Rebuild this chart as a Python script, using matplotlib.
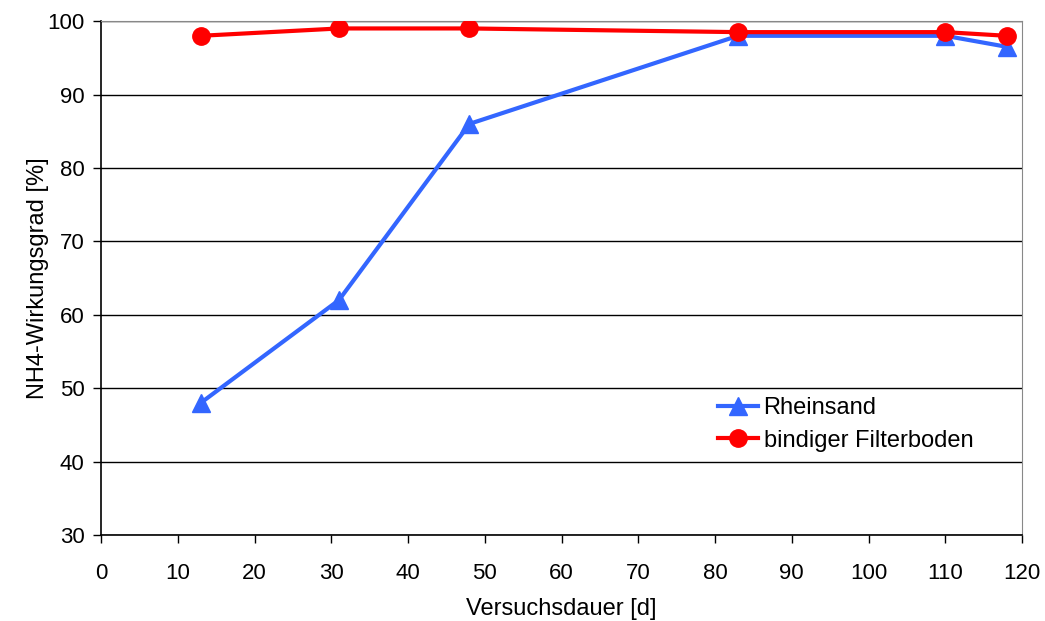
import matplotlib
matplotlib.use("Agg")
import matplotlib.pyplot as plt

plt.rcParams['font.family'] = ['Liberation Sans', 'DejaVu Sans']

# Versuchsdauer in Tagen
tage = [13, 31, 48, 83, 110, 118]
# NH4-Wirkungsgrad in %
rheinsand = [48, 62, 86, 98, 98, 96.5]
filterboden = [98, 99, 99, 98.5, 98.5, 98]

fig = plt.figure(figsize=(10.45, 6.21), dpi=100)
ax = fig.add_axes([0.0967, 0.1385, 0.8813, 0.8275])

ax.plot(tage, rheinsand, color='#3366ff', linewidth=3, marker='^',
        markersize=13, label='Rheinsand', zorder=3)
ax.plot(tage, filterboden, color='#ff0000', linewidth=3, marker='o',
        markersize=12.5, label='bindiger Filterboden', zorder=4)

ax.set_xlim(0, 120)
ax.set_ylim(30, 100)
ax.set_xticks(range(0, 121, 10))
ax.set_yticks(range(30, 101, 10))
ax.yaxis.grid(True, color='black', linewidth=1)
ax.set_axisbelow(True)

for side in ('top', 'right'):
    ax.spines[side].set_color('#888888')
for side in ('left', 'bottom'):
    ax.spines[side].set_color('black')
    ax.spines[side].set_linewidth(1.2)
ax.tick_params(direction='out', length=6, width=1, labelsize=16)
ax.tick_params(axis='x', pad=14)
ax.tick_params(axis='y', pad=6)

ax.set_xlabel('Versuchsdauer [d]', fontsize=17, labelpad=10)
ax.set_ylabel('NH4-Wirkungsgrad [%]', fontsize=17, labelpad=-1)

ax.legend(loc='lower right', bbox_to_anchor=(0.965, 0.13), frameon=False,
          fontsize=17, handlelength=1.7, handletextpad=0.25, labelspacing=0.45,
          borderpad=0.2)

fig.savefig('out.png', dpi=100)
